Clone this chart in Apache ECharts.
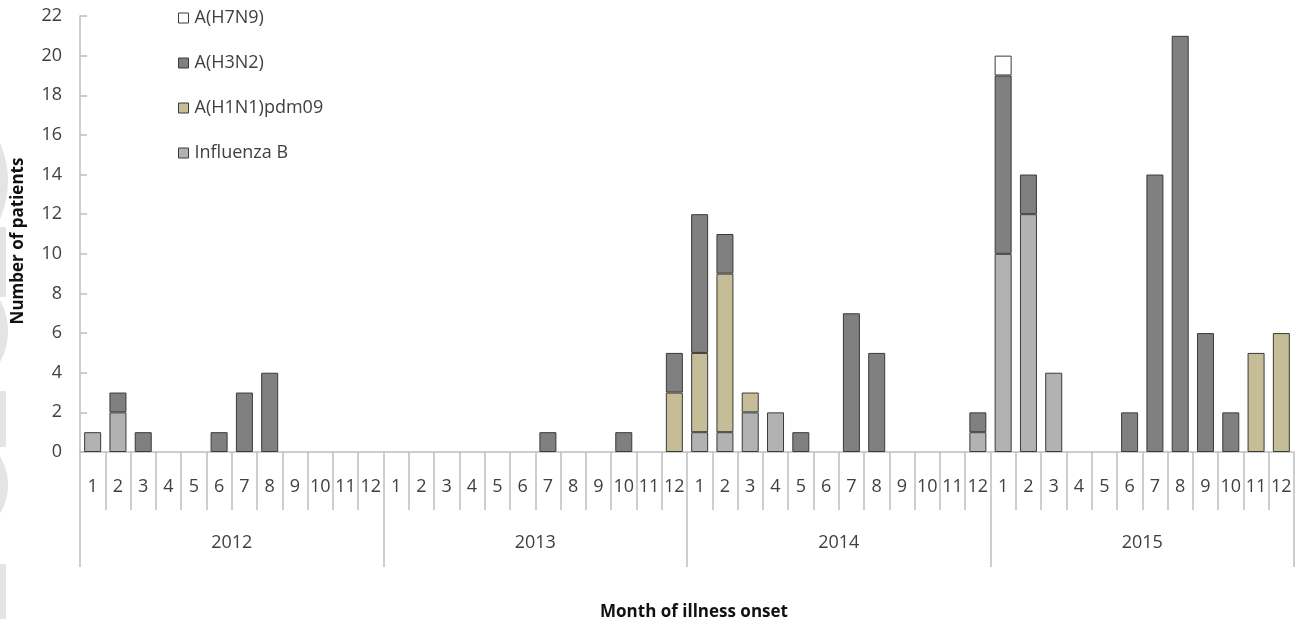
<!DOCTYPE html>
<html>
<head>
<meta charset="utf-8">
<script src="https://cdn.jsdelivr.net/npm/echarts@6/dist/echarts.min.js"></script>
<style>html,body{margin:0;padding:0;background:#fff}#c{width:1306px;height:628px}</style>
</head>
<body>
<div id="c"></div>
<script>
const years = ['2012', '2013', '2014', '2015'];
const monthLabels = ['1','2','3','4','5','6','7','8','9','10','11','12'];
// 48 months, Jan 2012 .. Dec 2015
const influenzaB = [
  1,2,0,0,0,0,0,0,0,0,0,0,
  0,0,0,0,0,0,0,0,0,0,0,0,
  1,1,2,2,0,0,0,0,0,0,0,1,
  10,12,4,0,0,0,0,0,0,0,0,0
];
const h1n1 = [
  0,0,0,0,0,0,0,0,0,0,0,0,
  0,0,0,0,0,0,0,0,0,0,0,3,
  4,8,1,0,0,0,0,0,0,0,0,0,
  0,0,0,0,0,0,0,0,0,0,5,6
];
const h3n2 = [
  0,1,1,0,0,1,3,4,0,0,0,0,
  0,0,0,0,0,0,1,0,0,1,0,2,
  7,2,0,0,1,0,7,5,0,0,0,1,
  9,2,0,0,0,2,14,21,6,2,0,0
];
const h7n9 = [
  0,0,0,0,0,0,0,0,0,0,0,0,
  0,0,0,0,0,0,0,0,0,0,0,0,
  0,0,0,0,0,0,0,0,0,0,0,0,
  1,0,0,0,0,0,0,0,0,0,0,0
];
const yTicks = [0,2,4,6,8,10,12,14,16,18,20,22];

const months = [];
years.forEach(y => monthLabels.forEach(m => months.push(y + '-' + m)));

const chart = echarts.init(document.getElementById('c'));
const font = '"Open Sans", "Liberation Sans", sans-serif';
const textColor = '#404040';
const axisGray = '#bfbfbf';
const wm = '#e4e4e4';

function mk(name, data, color) {
  return {
    name: name,
    type: 'bar',
    stack: 'all',
    data: data.map(v => v === 0 ? null : v),
    barWidth: 17,
    itemStyle: { color: color, borderColor: '#3a3a3a', borderWidth: 1 },
    emphasis: { disabled: true }
  };
}

chart.setOption({
  animation: false,
  textStyle: { fontFamily: font },
  grid: { left: 80, right: 12, top: 16, bottom: 176, containLabel: false },
  graphic: [
    { type: 'circle', shape: { cx: -86, cy: 181, r: 94 }, style: { fill: wm }, z: -10 },
    { type: 'rect', shape: { x: 0, y: 227, width: 6, height: 70 }, style: { fill: wm }, z: -10 },
    { type: 'circle', shape: { cx: -56, cy: 331, r: 64 }, style: { fill: wm }, z: -10 },
    { type: 'rect', shape: { x: 0, y: 391, width: 6, height: 56 }, style: { fill: wm }, z: -10 },
    { type: 'circle', shape: { cx: -47, cy: 485, r: 55 }, style: { fill: wm }, z: -10 },
    { type: 'rect', shape: { x: 0, y: 564, width: 6, height: 55 }, style: { fill: wm }, z: -10 },
    {
      type: 'text', x: 18, y: 241, rotation: Math.PI / 2,
      style: { text: 'Number of patients', font: 'bold 17px ' + font, fill: '#111', align: 'center', verticalAlign: 'middle' }
    },
    {
      type: 'text', x: 694, y: 612,
      style: { text: 'Month of illness onset', font: 'bold 17px ' + font, fill: '#111', align: 'center', verticalAlign: 'middle' }
    }
  ],
  legend: {
    orient: 'vertical',
    left: 173,
    top: 4,
    itemGap: 27,
    itemWidth: 10,
    itemHeight: 10,
    icon: 'rect',
    data: ['A(H7N9)', 'A(H3N2)', 'A(H1N1)pdm09', 'Influenza B'],
    textStyle: { fontSize: 18, lineHeight: 18, color: textColor, fontFamily: font, padding: [0, 0, 0, 1] },
    itemStyle: { borderColor: '#3a3a3a', borderWidth: 1 }
  },
  xAxis: [
    {
      type: 'category',
      data: months,
      position: 'bottom',
      axisLine: { show: true, lineStyle: { color: axisGray, width: 1.5 } },
      axisTick: { show: true, interval: 0, length: 58, lineStyle: { color: axisGray, width: 1.5 } },
      axisLabel: {
        interval: 0, margin: 26, color: textColor, fontSize: 18, fontFamily: font,
        formatter: v => v.split('-')[1]
      },
      splitLine: { show: false }
    },
    {
      type: 'category',
      data: years,
      position: 'bottom',
      gridIndex: 0,
      axisLine: { show: false },
      axisTick: { show: true, interval: 0, length: 115, lineStyle: { color: axisGray, width: 1.5 } },
      axisLabel: { interval: 0, margin: 82, color: textColor, fontSize: 18, fontFamily: font }
    }
  ],
  yAxis: {
    type: 'value',
    min: yTicks[0],
    max: yTicks[yTicks.length - 1],
    interval: 2,
    axisLine: { show: true, lineStyle: { color: axisGray, width: 1.5 } },
    axisTick: { show: true, inside: true, length: 7, lineStyle: { color: axisGray, width: 1.5 } },
    axisLabel: { color: textColor, fontSize: 18, margin: 18, fontFamily: font },
    splitLine: { show: false }
  },
  series: [
    mk('Influenza B', influenzaB, '#b2b2b2'),
    mk('A(H1N1)pdm09', h1n1, '#c4bd97'),
    mk('A(H3N2)', h3n2, '#808080'),
    mk('A(H7N9)', h7n9, '#ffffff')
  ]
});
</script>
</body>
</html>
